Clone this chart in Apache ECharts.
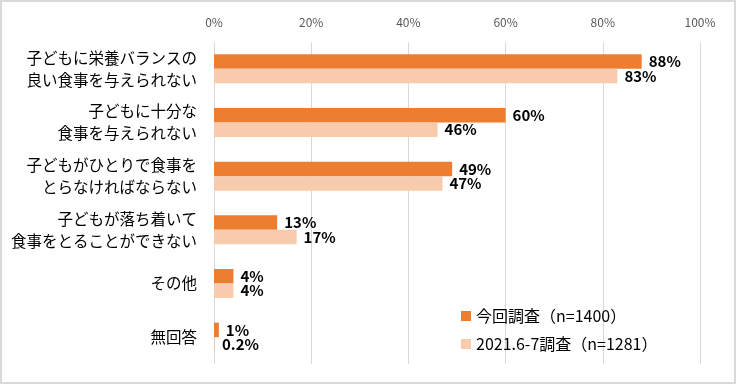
<!DOCTYPE html>
<html><head><meta charset="utf-8">
<script src="https://cdn.jsdelivr.net/npm/echarts@6/dist/echarts.min.js"></script>
<style>html,body{margin:0;padding:0;background:#fff}#c{width:736px;height:384px}</style>
</head><body><div id="c"></div>
<script>
const categories = [
  "子どもに栄養バランスの\n良い食事を与えられない",
  "子どもに十分な\n食事を与えられない",
  "子どもがひとりで食事を\nとらなければならない",
  "子どもが落ち着いて\n食事をとることができない",
  "その他",
  "無回答"
];
const seriesNames = ["今回調査（n=1400）", "2021.6-7調査（n=1281）"];
const current = [88, 60, 49, 13, 4, 1];
const previous = [83, 46, 47, 17, 4, 0.2];
const tickValues = [0, 20, 40, 60, 80, 100];

const FONT = '"Noto Sans CJK JP", "Noto Sans", sans-serif';
const chart = echarts.init(document.getElementById('c'), null, {renderer: 'canvas'});
const labelOpt = {
  show: true, position: 'right', distance: 7,
  formatter: p => p.value + '%',
  color: '#000', fontWeight: 'bold', fontSize: 15, fontFamily: FONT
};
chart.setOption({
  animation: false,
  textStyle: {fontFamily: FONT},
  graphic: [{
    type: 'rect', shape: {x: 1, y: 1, width: 734, height: 382},
    style: {fill: 'none', stroke: '#d9d9d9', lineWidth: 2}, silent: true
  }],
  grid: {left: 214, right: 36, top: 42, bottom: 20, containLabel: false},
  legend: {
    orient: 'vertical', left: 456, top: 303,
    itemWidth: 10, itemHeight: 10, itemGap: 12,
    icon: 'rect',
    textStyle: {fontSize: 16, color: '#000', fontFamily: FONT},
    data: seriesNames
  },
  xAxis: {
    type: 'value', position: 'top', min: tickValues[0], max: tickValues[tickValues.length - 1], interval: 20,
    axisLine: {show: false}, axisTick: {show: false},
    splitLine: {lineStyle: {color: '#d9d9d9', width: 1}},
    axisLabel: {formatter: v => v + '%', color: '#595959', fontSize: 12, margin: 14, fontFamily: FONT}
  },
  yAxis: {
    type: 'category', inverse: true, data: categories,
    axisLine: {show: false}, axisTick: {show: false},
    axisLabel: {color: '#000', fontSize: 15.5, lineHeight: 22, margin: 17, align: 'right', fontFamily: FONT}
  },
  series: [
    {name: seriesNames[0], type: 'bar', data: current, barGap: '0%', barCategoryGap: '46%',
     itemStyle: {color: '#ED7D31'}, label: labelOpt},
    {name: seriesNames[1], type: 'bar', data: previous, barGap: '0%', barCategoryGap: '46%',
     itemStyle: {color: '#F8CBAD'}, label: labelOpt}
  ]
});
</script></body></html>
